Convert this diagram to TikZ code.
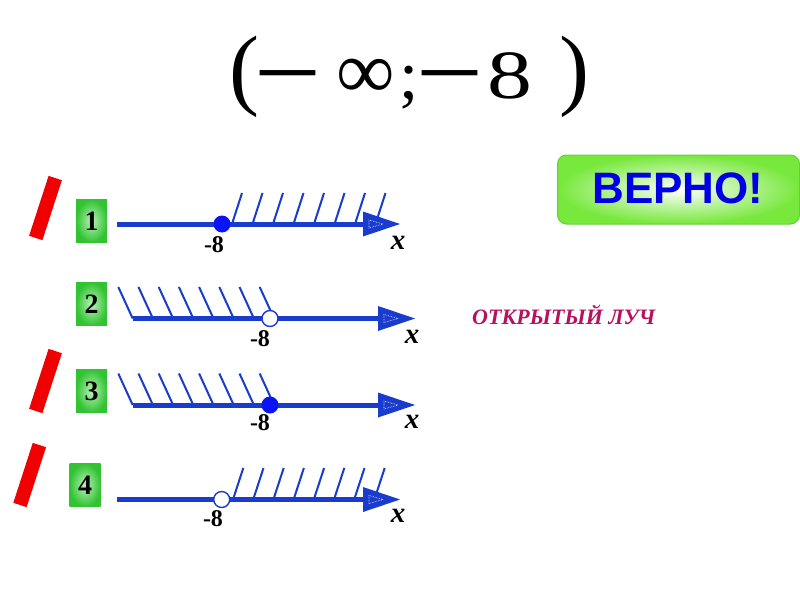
\documentclass[tikz,border=0pt]{standalone}
\usepackage{fontspec}
\setmainfont{Liberation Serif}
\newfontfamily\sansf{Liberation Sans}
\definecolor{lineblue}{RGB}{25,60,205}
\definecolor{dotblue}{RGB}{10,20,245}
\definecolor{crims}{RGB}{185,15,95}
\definecolor{barred}{RGB}{240,0,0}
\definecolor{boxout}{RGB}{50,195,50}
\definecolor{boxin}{RGB}{185,242,185}
\definecolor{vout}{RGB}{120,232,60}
\definecolor{vborder}{RGB}{95,210,60}
\begin{document}
\begin{tikzpicture}[x=1pt,y=-1pt,
  axis/.style={lineblue,line width=5pt},
  hatch/.style={lineblue,line width=2pt},
  tiphead/.style={fill=lineblue},
  innertri/.style={white,densely dotted,line width=0.6pt},
  closedpt/.style={circle,fill=dotblue,inner sep=0,minimum size=17pt},
  openpt/.style={circle,fill=white,draw=lineblue,line width=1.4pt,inner sep=0,minimum size=16pt},
  eightlab/.style={font=\bfseries\fontsize{24}{24}\selectfont,inner sep=0,anchor=base},
  xlab/.style={font=\bfseries\itshape\fontsize{29}{29}\selectfont,inner sep=0,anchor=base},
  numbox/.style={rectangle,inner sep=0,minimum width=31pt,minimum height=43pt,
     shading=radial,inner color=boxin,outer color=boxout,
     font=\bfseries\fontsize{28}{28}\selectfont},
  redbar/.style={rectangle,fill=barred,inner sep=0,minimum width=14pt,minimum height=63pt,rotate=-18},
  tt/.style={inner sep=0,anchor=base}
]
\useasboundingbox (0,0) rectangle (800,600);
\fill[white] (0,0) rectangle (800,600);

% ---------- title ----------
\node[tt,font=\fontsize{90}{90}\selectfont] (lp) at (244,98) {(};
\node[tt,font=\fontsize{55}{55}\selectfont] (d1) at (288,97) {\scalebox{1}[1.9]{—}};
\node[tt,font=\fontsize{82}{82}\selectfont] (inf) at (366,98) {∞};
\node[tt,font=\fontsize{69}{69}\selectfont] (semi) at (409,98) {;};
\node[tt,font=\fontsize{55}{55}\selectfont] (d2) at (450,97) {\scalebox{1}[1.9]{—}};
\node[tt,font=\fontsize{69}{69}\selectfont] (eight) at (510,98) {\scalebox{1.3}[1]{8}};
\node[tt,font=\fontsize{90}{90}\selectfont] (rp) at (574,98) {)};

% ---------- VERNO button ----------
\node[rectangle,rounded corners=9pt,draw=vborder,line width=1pt,
      shading=radial,inner color=white,outer color=vout,
      minimum width=242pt,minimum height=69pt,inner sep=0] (ver) at (678.5,189.5) {};
\node[font=\sansf\bfseries\fontsize{44}{44}\selectfont,text=blue!90!black,inner sep=0,anchor=base]
   (vertext) at (678,203.5) {ВЕРНО!};

% ---------- caption ----------
\node[font=\bfseries\itshape\fontsize{22}{22}\selectfont,text=crims,inner sep=0,anchor=base west]
   (ray) at (472,324) {ОТКРЫТЫЙ ЛУЧ};

% ---------- red bars ----------
\node[redbar] (r1) at (45.5,208) {};
\node[redbar] (r3) at (45.5,381) {};
\node[redbar] (r4) at (29.7,475) {};

% ---------- number boxes ----------
\node[numbox] (n1) at (91.5,221) {1};
\node[numbox] (n2) at (91.5,304) {2};
\node[numbox] (n3) at (91.5,391) {3};
\node[numbox] (n4) at (85,485) {4};

% ---------- line 1 ----------
\coordinate (s1) at (117,224);
\coordinate (b1) at (366,224);
\coordinate (t1) at (400,224);
\draw[axis] (s1) -- (b1);
\foreach \i in {0,...,7} \draw[hatch] ({232+20.5*\i},224) -- ++(10,-31);
\fill[tiphead] (t1) -- (363,211.5) -- (363,236.5) -- cycle;
\draw[innertri] (383,224) -- (369,220) -- (369,228) -- cycle;
\node[closedpt] (p1) at (222,224) {};
\node[eightlab] (e1) at (214,252.5) {-8};
\node[xlab] (x1) at (398,249.5) {x};

% ---------- line 2 ----------
\coordinate (s2) at (132.7,318.5);
\coordinate (b2) at (381,318.5);
\coordinate (t2) at (415,318.5);
\draw[axis] (s2) -- (b2);
\foreach \i in {0,...,7} \draw[hatch] ({118.3+20.2*\i},287) -- ++(14.4,31.5);
\fill[tiphead] (t2) -- (378,306) -- (378,331) -- cycle;
\draw[innertri] (398,318.5) -- (384,314.5) -- (384,322.5) -- cycle;
\node[openpt] (p2) at (270,318.5) {};
\node[eightlab] (e2) at (260,346.5) {-8};
\node[xlab] (x2) at (412,343) {x};

% ---------- line 3 ----------
\coordinate (s3) at (132.7,405);
\coordinate (b3) at (381,405);
\coordinate (t3) at (415,405);
\draw[axis] (s3) -- (b3);
\foreach \i in {0,...,7} \draw[hatch] ({118.3+20.2*\i},373.5) -- ++(14.4,31.5);
\fill[tiphead] (t3) -- (378,392.5) -- (378,417.5) -- cycle;
\draw[innertri] (398,405) -- (384,401) -- (384,409) -- cycle;
\node[closedpt] (p3) at (270,405) {};
\node[eightlab] (e3) at (260,430.5) {-8};
\node[xlab] (x3) at (412,428) {x};

% ---------- line 4 ----------
\coordinate (s4) at (116.7,499.5);
\coordinate (b4) at (366,499.5);
\coordinate (t4) at (400,499.5);
\draw[axis] (s4) -- (b4);
\foreach \i in {0,...,7} \draw[hatch] ({233+20.2*\i},499.5) -- ++(10.3,-31.5);
\fill[tiphead] (t4) -- (363,487) -- (363,512) -- cycle;
\draw[innertri] (383,499.5) -- (369,495.5) -- (369,503.5) -- cycle;
\node[openpt] (p4) at (221.7,499.5) {};
\node[eightlab] (e4) at (213,526.5) {-8};
\node[xlab] (x4) at (398,522) {x};
\end{tikzpicture}
\end{document}
